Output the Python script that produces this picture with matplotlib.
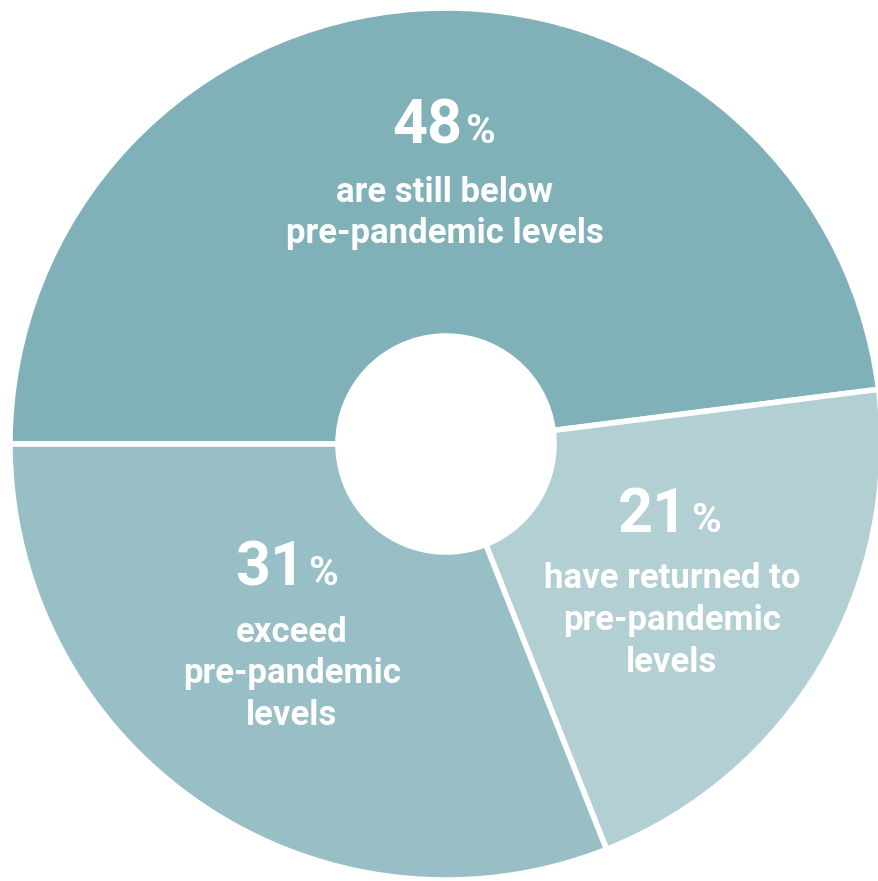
import matplotlib.pyplot as plt

# data
shares = [48, 21, 31]
numbers = ["48", "21", "31"]
captions = [
    ["are still below", "pre-pandemic levels"],
    ["have returned to", "pre-pandemic", "levels"],
    ["exceed", "pre-pandemic", "levels"],
]
colors = ["#81b1b8", "#b2cfd3", "#98bec6"]

W, H = 879, 881
CX, CY, R = 446, 444, 436  # pixel centre and radius
HOLE = 108


def px(x, y):
    # pixel (from top-left) to data coords
    return (x - CX) / R, (CY - y) / R


fig = plt.figure(figsize=(W / 100, H / 100), dpi=100)
ax = fig.add_axes([0, 0, 1, 1])
ax.pie(shares, colors=colors, startangle=180, counterclock=False, radius=1,
       wedgeprops=dict(width=1 - HOLE / R, edgecolor="white", linewidth=4))
ax.set_xlim(-CX / R, (W - CX) / R)
ax.set_ylim(-(H - CY) / R, CY / R)
ax.set_aspect("equal")
ax.axis("off")

font = "Roboto"
# label layout in pixels: split x for number/%, number baseline, caption centre x, caption baselines
layout = [
    (464, 143, 445, [202, 243]),
    (690, 532, 672, [588, 630, 672]),
    (307, 585, 292, [642, 683, 725]),
]
for num, lines, (sx, nb, lx, bases) in zip(numbers, captions, layout):
    x, y = px(sx - 2, nb)
    ax.text(x, y, num, ha="right", va="baseline", color="white",
            fontsize=44, fontweight="bold", family=font)
    x, y = px(sx + 1, nb)
    ax.text(x, y, "%", ha="left", va="baseline", color="white",
            fontsize=29, fontweight="bold", family=font)
    for line, b in zip(lines, bases):
        x, y = px(lx, b)
        ax.text(x, y, line, ha="center", va="baseline", color="white",
                fontsize=25, fontweight="bold", family=font)

fig.savefig("out.png", dpi=100)
